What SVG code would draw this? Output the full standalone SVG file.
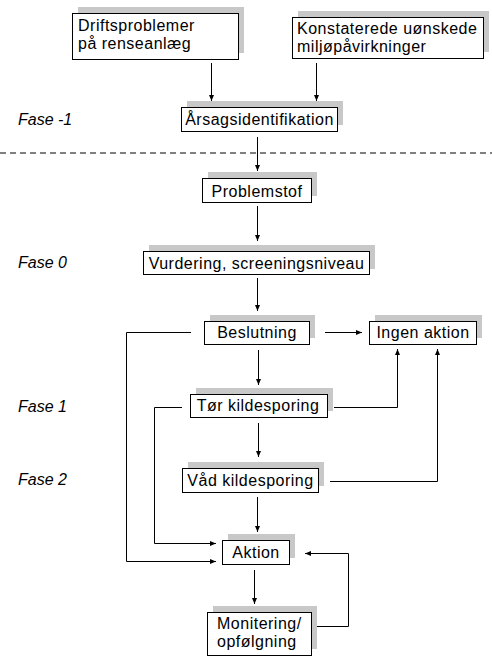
<svg xmlns="http://www.w3.org/2000/svg" width="492" height="662" viewBox="0 0 492 662">
<defs>
<marker id="arr" markerWidth="6" markerHeight="5" refX="6" refY="2.5" orient="auto" markerUnits="userSpaceOnUse">
<path d="M0,0 L6,2.5 L0,5 z" fill="#000"/>
</marker>
</defs>
<style>
.sh{fill:#c8c8c8;stroke:none}
.bx{fill:#fff;stroke:#000;stroke-width:1}
.t{font-family:"Liberation Sans",Arial,sans-serif;font-size:16px;letter-spacing:0.5px;fill:#000}
.c{text-anchor:middle}
.f{font-family:"Liberation Sans",Arial,sans-serif;font-size:16px;font-style:italic;fill:#000}
.ln{fill:none;stroke:#000;stroke-width:1}
</style>
<rect width="492" height="662" fill="#fff"/>
<line x1="0" y1="153" x2="492" y2="153" stroke="#000" stroke-width="1" stroke-dasharray="6 4"/>
<g id="labels">
<text class="f" x="18" y="125">Fase -1</text>
<text class="f" x="18" y="268">Fase 0</text>
<text class="f" x="18" y="412">Fase 1</text>
<text class="f" x="18" y="485">Fase 2</text>
</g>
<g id="n1"><rect class="sh" x="78" y="7" width="166" height="46"/><rect class="bx" x="72.5" y="13.5" width="166" height="46"/><text class="t" x="78" y="31">Driftsproblemer</text><text class="t" x="78" y="49">på renseanlæg</text></g>
<g id="n2"><rect class="sh" x="298" y="11" width="191" height="41"/><rect class="bx" x="292.5" y="17.5" width="191" height="41"/><text class="t" x="297" y="34">Konstaterede uønskede</text><text class="t" x="297" y="52">miljøpåvirkninger</text></g>
<g id="n3"><rect class="sh" x="187" y="101" width="156" height="24"/><rect class="bx" x="181.5" y="107.5" width="156" height="24"/><text class="t c" x="259.5" y="125">Årsagsidentifikation</text></g>
<g id="n4"><rect class="sh" x="208" y="172" width="109" height="24"/><rect class="bx" x="202.5" y="178.5" width="109" height="24"/><text class="t c" x="257" y="197">Problemstof</text></g>
<g id="n5"><rect class="sh" x="149" y="245" width="226" height="24"/><rect class="bx" x="143.5" y="251.5" width="226" height="23"/><text class="t c" x="256.5" y="269">Vurdering, screeningsniveau</text></g>
<g id="n6"><rect class="sh" x="210" y="315" width="105" height="23"/><rect class="bx" x="204.5" y="321.5" width="105" height="23"/><text class="t c" x="257" y="338">Beslutning</text></g>
<g id="n7"><rect class="sh" x="375" y="315" width="107" height="23"/><rect class="bx" x="369.5" y="321.5" width="107" height="23"/><text class="t c" x="423" y="338">Ingen aktion</text></g>
<g id="n8"><rect class="sh" x="196" y="388" width="137" height="23"/><rect class="bx" x="190.5" y="394.5" width="137" height="23"/><text class="t c" x="258" y="411">Tør kildesporing</text></g>
<g id="n9"><rect class="sh" x="188" y="462" width="136" height="24"/><rect class="bx" x="182.5" y="468.5" width="136" height="24"/><text class="t c" x="250.5" y="486">Våd kildesporing</text></g>
<g id="n10"><rect class="sh" x="228" y="534" width="67" height="24"/><rect class="bx" x="222.5" y="540.5" width="67" height="24"/><text class="t c" x="256" y="558">Aktion</text></g>
<g id="n11"><rect class="sh" x="213" y="606" width="104" height="43"/><rect class="bx" x="207.5" y="612.5" width="104" height="43"/><text class="t" x="217" y="629">Monitering/</text><text class="t" x="217" y="647">opfølgning</text></g>
<g id="connectors">
<path class="ln" d="M211.5 63 V101" marker-end="url(#arr)"/>
<path class="ln" d="M316.5 63 V101" marker-end="url(#arr)"/>
<path class="ln" d="M257.5 137 V171" marker-end="url(#arr)"/>
<path class="ln" d="M257.5 206 V241" marker-end="url(#arr)"/>
<path class="ln" d="M257.5 278 V311" marker-end="url(#arr)"/>
<path class="ln" d="M325 332.5 H362" marker-end="url(#arr)"/>
<path class="ln" d="M258.5 350 V385" marker-end="url(#arr)"/>
<path class="ln" d="M334 407.5 H397.5 V349" marker-end="url(#arr)"/>
<path class="ln" d="M330 481.5 H437.5 V349" marker-end="url(#arr)"/>
<path class="ln" d="M191 332.5 H126.5 V561.5 H216" marker-end="url(#arr)"/>
<path class="ln" d="M182 407.5 H154.5 V543.5 H216" marker-end="url(#arr)"/>
<path class="ln" d="M258.5 423 V457" marker-end="url(#arr)"/>
<path class="ln" d="M257.5 497 V532" marker-end="url(#arr)"/>
<path class="ln" d="M254.5 570 V604" marker-end="url(#arr)"/>
<path class="ln" d="M317 626.5 H348.5 V553.5 H305" marker-end="url(#arr)"/>
</g>
</svg>
